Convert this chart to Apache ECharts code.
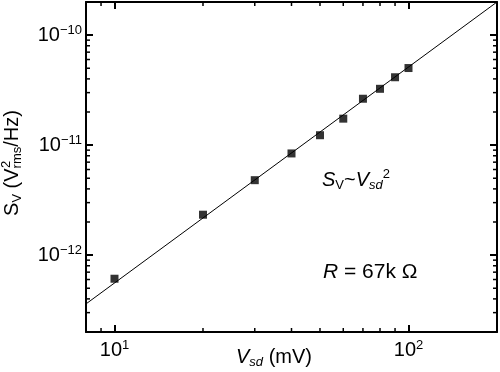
<!DOCTYPE html>
<html><head><meta charset="utf-8">
<script src="https://cdn.jsdelivr.net/npm/echarts@6/dist/echarts.min.js"></script>
<style>html,body{margin:0;padding:0;background:#fff}#c{width:500px;height:372px}</style>
</head><body><div id="c"></div>
<script>
// Data (mV, V^2/Hz)
const voltages = [10, 20, 30, 40, 50, 60, 70, 80, 90, 100];
const noise = [6.1e-13, 2.33e-12, 4.8e-12, 8.4e-12, 1.23e-11, 1.74e-11, 2.64e-11, 3.25e-11, 4.14e-11, 5.02e-11];
const fitX = [8, 200];
const fitY = [3.6e-13, 2.0e-10];
const X_MIN = 8, X_MAX = 200;
const Y_MIN = 2e-13, Y_MAX = 2e-10;
const xMinor = [9, 20, 30, 40, 50, 60, 70, 80, 90];
const yMinor = [3e-13, 4e-13, 5e-13, 6e-13, 7e-13, 8e-13, 9e-13,
  2e-12, 3e-12, 4e-12, 5e-12, 6e-12, 7e-12, 8e-12, 9e-12,
  2e-11, 3e-11, 4e-11, 5e-11, 6e-11, 7e-11, 8e-11, 9e-11];

const FONT = "'Liberation Sans', Arial, sans-serif";
function powLabel(v) {
  const l = Math.log10(v);
  if (Math.abs(l - Math.round(l)) > 1e-6) return '';
  const e = Math.round(l);
  const s = e < 0 ? '\u2212' + (-e) : String(e);
  return '{b|10}{s|' + s + '}';
}
const labelRich = {
  b: { fontSize: 20, fontFamily: FONT, color: '#000', lineHeight: 22 },
  s: { fontSize: 13, fontFamily: FONT, color: '#000', verticalAlign: 'top', lineHeight: 13 }
};
const axisLine = { show: true, onZero: false, lineStyle: { color: '#000', width: 2 } };
const axisTick = { show: true, inside: true, length: 7, lineStyle: { color: '#000', width: 2 } };

function mainText(size) { return { fontSize: size, fontFamily: FONT, color: '#000', lineHeight: 24 }; }
function makeRich(size) {
  return {
    m: mainText(size),
    i: Object.assign(mainText(size), { fontStyle: 'italic' }),
    sb: { fontSize: 13, fontFamily: FONT, color: '#000', verticalAlign: 'bottom', lineHeight: 12 },
    isb: { fontSize: 13, fontFamily: FONT, color: '#000', fontStyle: 'italic', verticalAlign: 'bottom', lineHeight: 12 },
    sp: { fontSize: 13, fontFamily: FONT, color: '#000', verticalAlign: 'top', lineHeight: 10 }
  };
}

// measure text widths for stacking the "2" over "rms" in the y-axis title
const mctx = document.createElement('canvas').getContext('2d');
function tw(t, size) { mctx.font = size + 'px ' + FONT; return mctx.measureText(t).width; }
const yTitleParts = [['S', 20], ['V', 13], [' (V', 20], ['rms', 13], ['/Hz)', 20]];
const yTitleW = yTitleParts.reduce((a, p) => a + tw(p[0], p[1]), 0);
const supX = -yTitleW / 2 + tw('S', 20) + tw('V', 13) + tw(' (V', 20);

const chart = echarts.init(document.getElementById('c'), null, { renderer: 'canvas' });
chart.setOption({
  animation: false,
  backgroundColor: '#fff',
  grid: { left: 86, right: 2, top: 2, bottom: 40, containLabel: false },
  xAxis: [
    { type: 'log', logBase: 10, min: X_MIN, max: X_MAX, position: 'bottom',
      axisLine, axisTick, splitLine: { show: false },
      axisLabel: { formatter: powLabel, rich: labelRich, margin: 7 } },
    { type: 'log', logBase: 10, min: X_MIN, max: X_MAX, position: 'top',
      axisLine, axisTick, splitLine: { show: false }, axisLabel: { show: false } }
  ],
  yAxis: [
    { type: 'log', logBase: 10, min: Y_MIN, max: Y_MAX, position: 'left',
      axisLine, axisTick, splitLine: { show: false },
      axisLabel: { formatter: powLabel, rich: labelRich, margin: 4 } },
    { type: 'log', logBase: 10, min: Y_MIN, max: Y_MAX, position: 'right',
      axisLine, axisTick, splitLine: { show: false }, axisLabel: { show: false } }
  ],
  series: [
    { type: 'line', data: fitX.map((x, i) => [x, fitY[i]]), symbol: 'none',
      lineStyle: { color: '#000', width: 1 }, z: 3 },
    { type: 'scatter', data: voltages.map((x, i) => [x, noise[i]]), symbol: 'rect',
      symbolSize: 8, itemStyle: { color: '#000' }, z: 4 },
    { type: 'custom', silent: true, z: 5, data: xMinor.map(v => [v, Y_MIN]),
      renderItem: (p, api) => {
        const x = api.value(0);
        const b = api.coord([x, Y_MIN]), t = api.coord([x, Y_MAX]);
        const st = { stroke: '#000', lineWidth: 1.5 };
        return { type: 'group', children: [
          { type: 'line', shape: { x1: b[0], y1: b[1], x2: b[0], y2: b[1] - 4 }, style: st },
          { type: 'line', shape: { x1: t[0], y1: t[1], x2: t[0], y2: t[1] + 4 }, style: st }
        ] };
      } },
    { type: 'custom', silent: true, z: 5, data: yMinor.map(v => [X_MIN, v]),
      renderItem: (p, api) => {
        const y = api.value(1);
        const l = api.coord([X_MIN, y]), r = api.coord([X_MAX, y]);
        const st = { stroke: '#000', lineWidth: 1.5 };
        return { type: 'group', children: [
          { type: 'line', shape: { x1: l[0], y1: l[1], x2: l[0] + 4, y2: l[1] }, style: st },
          { type: 'line', shape: { x1: r[0], y1: r[1], x2: r[0] - 4, y2: r[1] }, style: st }
        ] };
      } }
  ],
  graphic: [
    { type: 'group', x: 12, y: 163, rotation: Math.PI / 2, children: [
      { type: 'text', x: 0, y: 0,
        style: { text: '{m|S}{sb|V}{m| (V}{sb|rms}{m|/Hz)}', rich: makeRich(20), align: 'center', verticalAlign: 'middle' } },
      { type: 'text', x: supX + 0.5, y: -6,
        style: { text: '2', font: '13px ' + FONT, fill: '#000', align: 'left', verticalAlign: 'middle' } }
    ] },
    { type: 'text', x: 274, y: 357,
      style: { text: '{i|V}{isb|sd}{m| (mV)}', rich: makeRich(20), align: 'center', verticalAlign: 'middle' } },
    { type: 'text', x: 322, y: 180,
      style: { text: '{i|S}{sb|V}{m|~}{i|V}{isb|sd}{sp|2}', rich: makeRich(20), align: 'left', verticalAlign: 'middle' } },
    { type: 'text', x: 323, y: 272,
      style: { text: '{i|R}{m| = 67k \u03A9}', rich: makeRich(21), align: 'left', verticalAlign: 'middle' } }
  ]
});
</script>
</body></html>
